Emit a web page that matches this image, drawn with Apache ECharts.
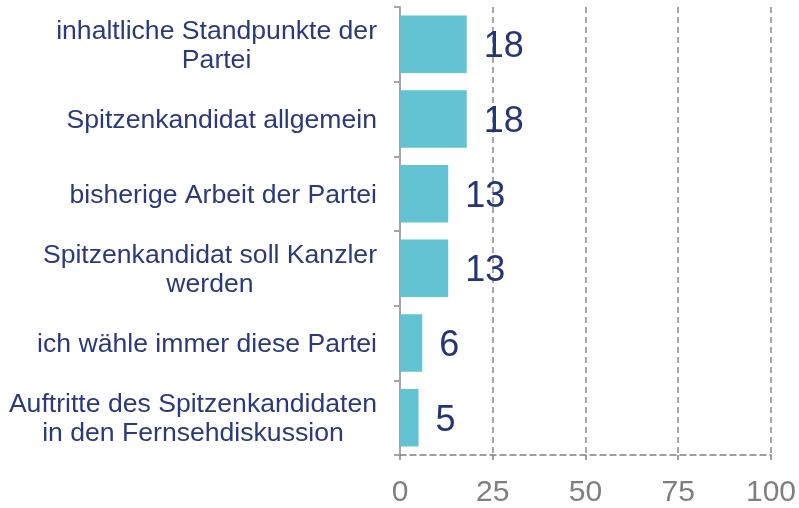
<!DOCTYPE html>
<html>
<head>
<meta charset="utf-8">
<script src="https://cdn.jsdelivr.net/npm/echarts@6/dist/echarts.min.js"></script>
<style>
  html, body { margin: 0; padding: 0; background: #fff; }
  #chart { width: 799px; height: 508px; }
</style>
</head>
<body>
<div id="chart"></div>
<script>
// Gründe für die Wahlentscheidung
var categories = [
  'inhaltliche Standpunkte der\nPartei',
  'Spitzenkandidat allgemein',
  'bisherige Arbeit der Partei',
  'Spitzenkandidat soll Kanzler\nwerden',
  'ich wähle immer diese Partei',
  'Auftritte des Spitzenkandidaten\nin den Fernsehdiskussion'
];
var values = [18, 18, 13, 13, 6, 5];
var xTicks = [0, 25, 50, 75, 100];

var myChart = echarts.init(document.getElementById('chart'));
var option = {
  animation: false,
  textStyle: { fontFamily: '"Liberation Sans", Arial, sans-serif' },
  grid: {
    left: 400,
    right: 27,
    top: 7,
    bottom: 53,
    containLabel: false
  },
  xAxis: {
    type: 'value',
    min: xTicks[0],
    max: xTicks[xTicks.length - 1],
    interval: 25,
    axisLine: {
      show: true,
      lineStyle: { color: '#7f7f7f', width: 1.5, type: [6, 4] }
    },
    axisTick: {
      show: true,
      length: 5,
      lineStyle: { color: '#7f7f7f', width: 1.5 }
    },
    splitLine: {
      show: true,
      lineStyle: { color: '#8c8c8c', width: 1.5, type: [6, 4] }
    },
    axisLabel: {
      color: '#7f7f7f',
      fontSize: 30,
      margin: 23
    }
  },
  yAxis: {
    type: 'category',
    inverse: true,
    data: categories,
    axisLine: {
      show: true,
      lineStyle: { color: '#a6a6a6', width: 2 }
    },
    axisTick: {
      show: true,
      length: 6,
      lineStyle: { color: '#a6a6a6', width: 2 }
    },
    axisLabel: {
      margin: 23,
      align: 'right',
      formatter: function (value) {
        return value.split('\n').map(function (s) { return '{c|' + s + '}'; }).join('\n');
      },
      rich: {
        c: {
          align: 'center',
          color: '#2b3a7b',
          fontSize: 26.6,
          lineHeight: 29,
          padding: [3, 0, 0, 0],
          fontFamily: '"Liberation Sans", Arial, sans-serif'
        }
      }
    }
  },
  series: [
    {
      type: 'bar',
      data: values,
      barCategoryGap: '23%',
      itemStyle: { color: '#62c3d3' },
      label: {
        show: true,
        position: 'right',
        distance: 17,
        offset: [0, 3],
        color: '#253575',
        fontSize: 36
      }
    }
  ]
};
myChart.setOption(option);
window.addEventListener('resize', function () {
  myChart.resize();
});
</script>
</body>
</html>
